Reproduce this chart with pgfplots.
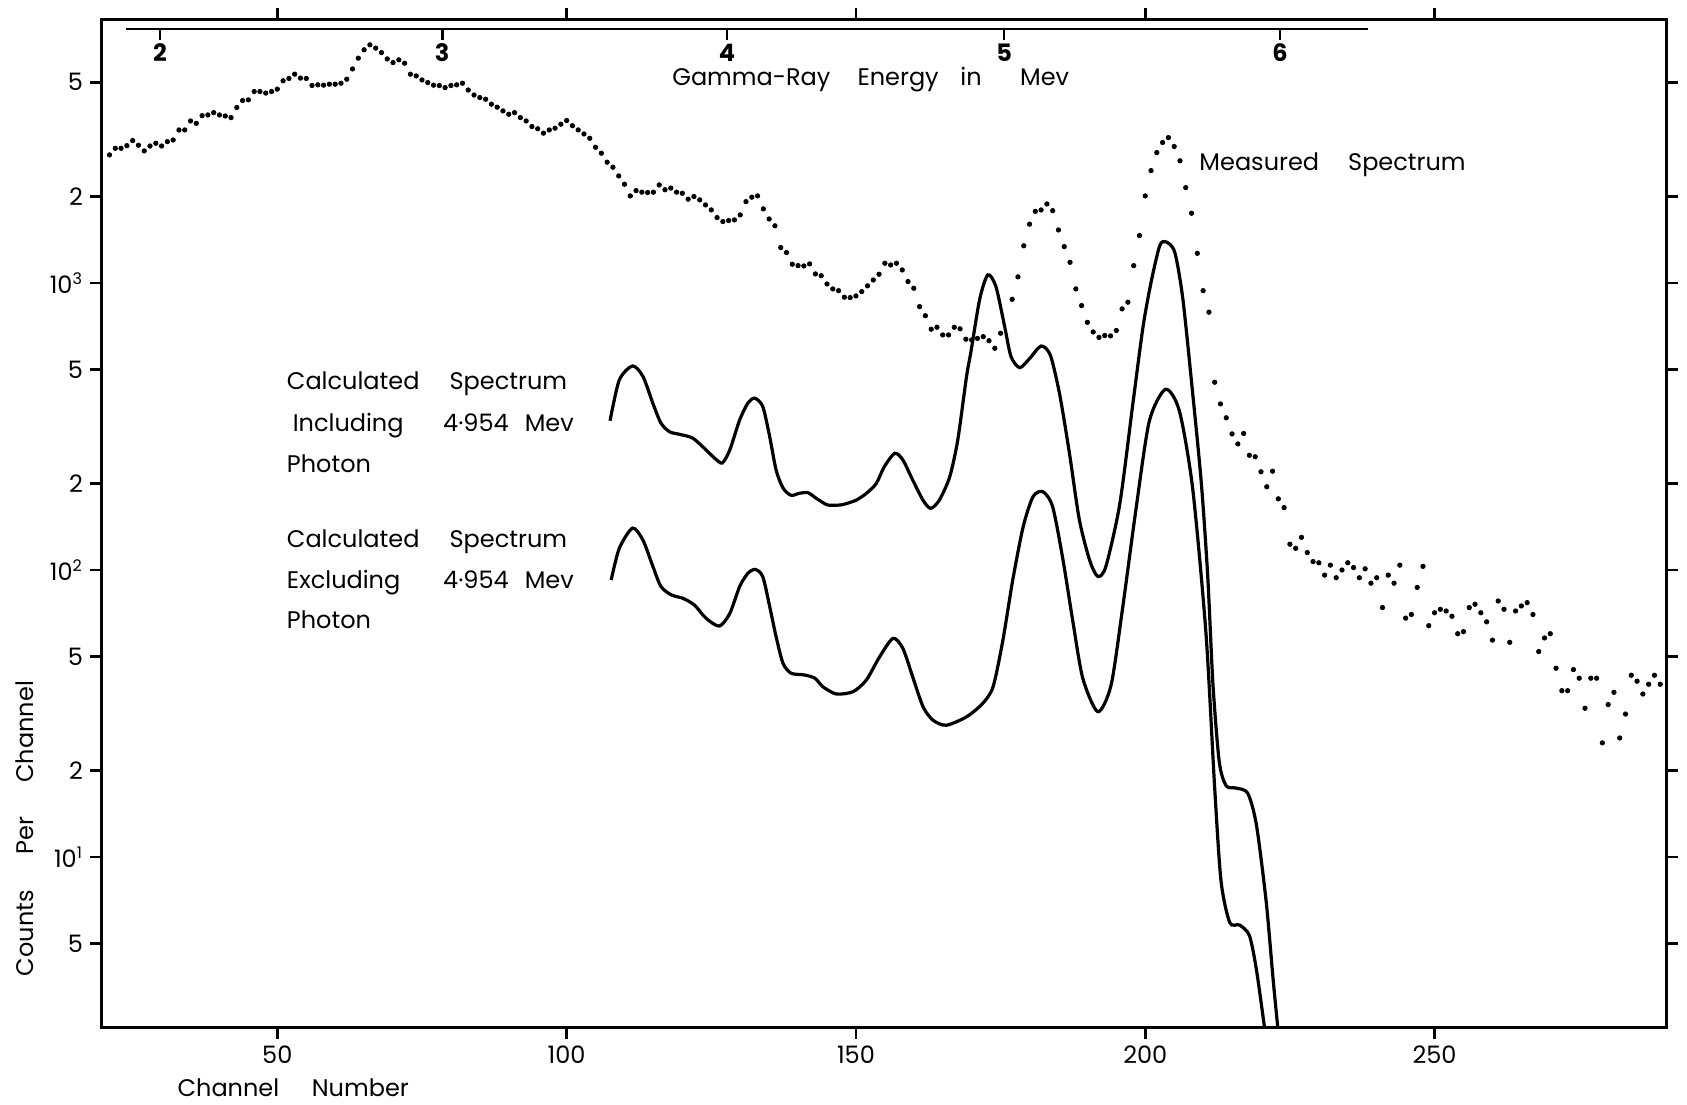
\documentclass[border=0pt]{standalone}
\usepackage{fontspec}
\setmainfont{Poppins}
\usepackage{pgfplots}
\pgfplotsset{compat=1.18}
\usetikzlibrary{calc}
\tikzset{lab/.style={anchor=west, inner sep=0pt, font=\fontsize{12}{14}\selectfont, text height=1.5ex, text depth=.25ex}}
\begin{document}
\begin{tikzpicture}
\begin{axis}[
  scale only axis, width=782pt, height=503.5pt,
  xmin=19.7, xmax=290, ymode=log, ymin=2.56, ymax=8240,
  clip mode=individual,
  axis line style={line width=1.5pt},
  tick align=outside, major tick length=6pt,
  major tick style={line width=1.3pt, black},
  xtick={50,100,150,200,250}, xticklabels={50,100,150,200,250},
  xtick pos=both, xticklabel pos=lower,
  ytick={5,10,20,50,100,200,500,1000,2000,5000},
  yticklabels={5,10\textsuperscript{1},2,5,10\textsuperscript{2},2,5,10\textsuperscript{3},2,5},
  ytick pos=both, yticklabel pos=left,
  yminorticks=false, xminorticks=false,
  tick label style={font=\fontsize{12}{14}\selectfont},
]
% measured spectrum
\addplot[only marks, mark=*, mark size=1.1pt, black] table {
x y
21 2793
22 2944
23 2944
24 3008
25 3133
26 3018
27 2884
28 2999
29 3066
30 2999
31 3106
32 3147
33 3411
34 3411
35 3666
36 3597
37 3826
38 3848
39 3920
40 3848
41 3816
42 3767
43 4083
44 4318
45 4343
46 4643
47 4643
48 4585
49 4643
50 4732
51 5060
52 5156
53 5336
54 5170
55 5156
56 4873
57 4898
58 4885
59 4924
60 4924
61 4962
62 5124
63 5567
64 6066
65 6487
66 6750
67 6575
68 6345
69 6031
70 5855
71 5986
72 5824
73 5336
74 5262
75 5094
76 4989
77 4885
78 4870
79 4790
80 4870
81 4898
82 4962
83 4700
84 4515
85 4423
86 4365
87 4195
88 4095
89 3975
90 3870
91 3920
92 3767
93 3666
94 3505
95 3443
96 3325
97 3411
98 3460
99 3573
100 3679
101 3530
102 3412
103 3304
104 3191
105 2969
106 2831
107 2634
108 2530
109 2359
110 2207
111 2010
112 2097
113 2071
114 2065
115 2071
116 2194
117 2112
118 2140
119 2071
120 2053
121 1958
122 2000
123 1947
124 1870
125 1796
126 1689
127 1636
128 1649
129 1658
130 1726
131 1920
132 1990
133 2010
134 1811
135 1671
136 1581
137 1328
138 1276
139 1162
140 1149
141 1146
142 1165
143 1075
144 1060
145 992
146 953
147 940
148 892
149 889
150 901
151 933
152 977
153 1024
154 1072
155 1171
156 1155
157 1171
158 1110
159 1011
160 958
161 827
162 769
163 690
164 701
165 659
166 659
167 701
168 692
169 637
170 633
171 641
172 650
173 629
174 592
175 668
177 877
178 1050
179 1347
180 1602
181 1776
182 1796
183 1884
184 1786
185 1530
186 1338
187 1180
188 953
189 834
190 729
191 675
192 646
193 656
194 654
195 683
196 812
197 857
198 1149
199 1462
200 2010
201 2462
202 2845
203 3085
204 3208
205 2987
206 2663
207 2148
208 1749
209 1268
210 940
211 791
212 451
213 379
214 339
215 298
216 275
217 299
218 251
219 248
220 220
221 195
222 221
223 177
224 165
225 123
226 119
227 130
228 115
229 107
230 106
231 96
232 104
233 94
234 100
235 106
236 102
237 94
238 101
239 90
240 94
241 74
242 96
243 90
244 104
245 68
246 70
247 87
248 103
249 64
250 71
251 73
252 72
253 69
254 60
255 61
256 74
257 76
258 71
259 66
260 57
261 78
262 73
263 56
264 72
265 75
266 77
267 70
268 52
269 58
270 60
271 45.5
272 38
273 38
274 45
275 42
276 33
277 42
278 42
279 25
280 34
281 37.5
282 26
283 31.5
284 43
285 41
286 37
287 40
288 43
289 40
};
% calculated, including 4.954 MeV photon
\addplot[black, line width=1.6pt, smooth, tension=0.45] table {
x y
107.5 331
109.1 459
111.4 514
113.2 472
114.9 381
116.3 325
117.8 303
119.5 297
121.8 288
124.1 262
125.6 245
126.9 236
128.2 262
129.9 333
131.3 381
132.5 397
133.9 371
135.1 291
136.2 223
137.4 193
138.8 182
140.2 185
141.7 186
143.1 178
144.9 169
146.0 168
147.7 169
150.0 175
151.8 185
153.5 200
154.9 229
156.7 255
158.1 242
159.8 206
161.6 175
162.9 164
164.4 175
166.2 211
167.6 284
169.1 470
169.9 580
171.4 880
172.8 1067
174.2 970
175.7 705
176.8 554
178.3 507
180.0 545
182.0 603
183.6 560
185.2 410
186.9 255
188.6 150
190.4 108
191.8 95
193.2 103
195.6 170
197.9 385
199.6 700
201.0 1004
202.5 1348
203.6 1390
205.1 1279
206.5 879
208.2 412
209.7 200
210.8 95
211.7 40
212.8 21.4
214.0 17.7
215.7 17.4
217.7 16.7
219.2 13.0
220.9 7.0
222.1 3.75
222.9 2.56
223.2 2.3
};
% calculated, excluding 4.954 MeV photon
\addplot[black, line width=1.6pt, smooth, tension=0.45] table {
x y
107.7 92.3
109.1 119
111.4 140
113.2 127
114.9 103
116.3 87.6
118.1 81.9
120.1 79.7
122.1 75.5
124.1 67.9
126.4 63.8
128.2 70.6
129.9 87.6
131.3 97.3
132.6 100.5
133.9 94.8
135.1 74.5
136.2 58.6
137.4 47.3
138.8 43.7
141.1 43.1
142.9 42
144.3 39.2
146.6 37
149.5 37.7
151.8 41.4
154.1 49.9
156.4 57.8
158.1 53.4
159.8 42.5
161.6 33.4
163.3 30.0
165.6 28.8
169.1 30.8
171.9 34.3
173.7 39.2
175.4 57
177.1 92.3
178.9 141.5
180.6 180
182.3 187.5
184.0 166
185.8 108
187.5 66
189.2 42
191.8 32.1
194.1 39.8
196.1 74
198.4 163
200.7 330
203.5 426
205.9 358
208.2 192
210.5 60
212.0 17.4
213.1 8.24
214.6 5.92
216.3 5.80
218.0 5.33
219.2 4.07
220.6 2.56
220.9 2.3
};
% energy scale
\draw[line width=1.3pt] (axis cs:23.9,7656) -- (axis cs:238.5,7656);
\draw[line width=1.3pt] (axis cs:29.7,7656) -- (axis cs:29.7,7030);
\draw[line width=1.3pt] (axis cs:78.5,7656) -- (axis cs:78.5,7030);
\draw[line width=1.3pt] (axis cs:127.7,7656) -- (axis cs:127.7,7030);
\draw[line width=1.3pt] (axis cs:175.6,7656) -- (axis cs:175.6,7030);
\draw[line width=1.3pt] (axis cs:223.3,7656) -- (axis cs:223.3,7030);
\node[font=\fontsize{12}{14}\selectfont\bfseries, inner sep=0pt] at (axis cs:29.7,6324) {2};
\node[font=\fontsize{12}{14}\selectfont\bfseries, inner sep=0pt] at (axis cs:78.5,6324) {3};
\node[font=\fontsize{12}{14}\selectfont\bfseries, inner sep=0pt] at (axis cs:127.7,6324) {4};
\node[font=\fontsize{12}{14}\selectfont\bfseries, inner sep=0pt] at (axis cs:175.6,6324) {5};
\node[font=\fontsize{12}{14}\selectfont\bfseries, inner sep=0pt] at (axis cs:223.3,6324) {6};
\node[lab] at (axis cs:118.2,5138) {Gamma-Ray};
\node[lab] at (axis cs:150.2,5138) {Energy};
\node[lab] at (axis cs:168.0,5138) {in};
\node[lab] at (axis cs:178.3,5138) {Mev};
\node[lab] at (axis cs:209.3,2598) {Measured};
\node[lab] at (axis cs:235.0,2598) {Spectrum};
\node[lab] at (axis cs:51.6,448.3) {Calculated};
\node[lab] at (axis cs:79.7,448.3) {Spectrum};
\node[lab] at (axis cs:52.6,320.0) {Including};
\node[lab] at (axis cs:78.6,320.0) {4·954};
\node[lab] at (axis cs:92.7,320.0) {Mev};
\node[lab] at (axis cs:51.6,230.4) {Photon};
\node[lab] at (axis cs:51.6,126.2) {Calculated};
\node[lab] at (axis cs:79.7,126.2) {Spectrum};
\node[lab] at (axis cs:51.6,90.8) {Excluding};
\node[lab] at (axis cs:78.6,90.8) {4·954};
\node[lab] at (axis cs:92.7,90.8) {Mev};
\node[lab] at (axis cs:51.6,65.9) {Photon};
% axis labels
\node[lab] at (axis cs:32.7,1.554) {Channel};
\node[lab] at (axis cs:55.9,1.554) {Number};
\node[lab, anchor=center, rotate=90] at (axis cs:6.73,5.43) {Counts};
\node[lab, anchor=center, rotate=90] at (axis cs:6.73,11.9) {Per};
\node[lab, anchor=center, rotate=90] at (axis cs:6.73,27.3) {Channel};
\end{axis}
\pgfresetboundingbox
\path[use as bounding box] ($(current axis.south west)+(-51pt,-38.5pt)$) rectangle ($(current axis.north east)+(10.5pt,10pt)$);
\end{tikzpicture}
\end{document}
